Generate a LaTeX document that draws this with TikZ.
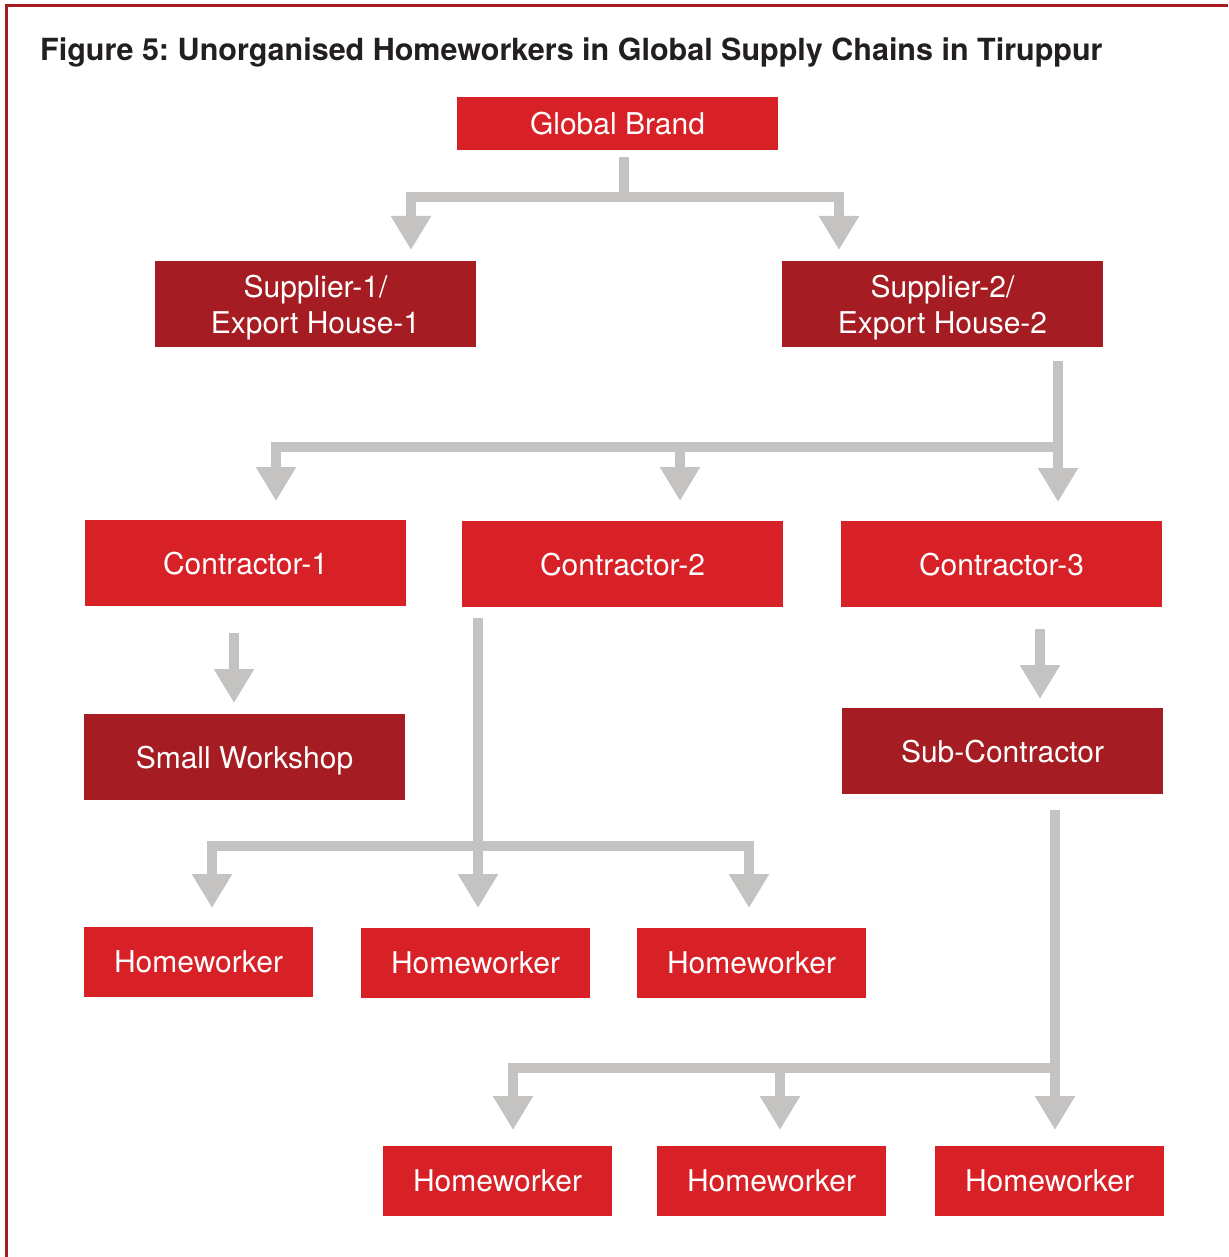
\documentclass[tikz,border=0pt]{standalone}
\usepackage{fontspec}
\setmainfont{TeX Gyre Heros}
\usetikzlibrary{arrows.meta}
\definecolor{brandred}{HTML}{D82027}
\definecolor{darkred}{HTML}{A51C22}
\definecolor{flowgrey}{HTML}{C4C3C1}
\definecolor{titlegrey}{HTML}{231F20}
\frenchspacing

\begin{document}
\begin{tikzpicture}[x=1pt,y=-1pt]
    \tikzstyle{box}=[inner sep=0pt, text=white, text depth=0pt, font=\fontsize{30}{36}\selectfont, align=center]
    \tikzstyle{big box}=[box, minimum width=321pt, minimum height=86pt]
    \tikzstyle{home box}=[box, fill=brandred, minimum width=229pt, minimum height=70pt]
    \tikzstyle{bar}=[draw=flowgrey, line width=10pt]
    \tikzstyle{flow}=[bar, -{Triangle[width=38pt,length=34pt]}]
    \useasboundingbox (0,0) rectangle (1228,1257);
    % frame and title
    \draw[darkred, line width=3pt] (6,1257) -- (6,6) -- (1228,6);
    \node[anchor=base west, inner sep=0pt, text=titlegrey, font=\fontsize{30.5}{36}\selectfont\bfseries] (title) at (40,61)
      {Figure 5: Unorganised Homeworkers in Global Supply Chains in Tiruppur};
    % boxes
    \node[big box, fill=brandred, minimum height=53pt] (brand) at (617.5,123.5) {Global Brand};
    \node[big box, fill=darkred] (sup1) at (315.5,304) {Supplier-1/\\Export House-1};
    \node[big box, fill=darkred] (sup2) at (942.5,304) {Supplier-2/\\Export House-2};
    \node[big box, fill=brandred] (con1) at (245.5,563) {Contractor-1};
    \node[big box, fill=brandred] (con2) at (622.5,564) {Contractor-2};
    \node[big box, fill=brandred] (con3) at (1001.5,564) {Contractor-3};
    \node[big box, fill=darkred] (shop) at (244.5,757) {Small Workshop};
    \node[big box, fill=darkred] (sub) at (1002.5,751) {Sub-Contractor};
    \node[home box] (home1) at (198.5,962) {Homeworker};
    \node[home box] (home2) at (475.5,963) {Homeworker};
    \node[home box] (home3) at (751.5,963) {Homeworker};
    \node[home box] (home4) at (497.5,1181) {Homeworker};
    \node[home box] (home5) at (771.5,1181) {Homeworker};
    \node[home box] (home6) at (1049.5,1181) {Homeworker};
    % brand to suppliers
    \coordinate (b0) at (624,157);
    \coordinate (b1) at (624,197);
    \coordinate (sup1t) at (411,250);
    \coordinate (sup2t) at (839,250);
    \draw[bar] (b0) -- (b1);
    \draw[flow] (b1) -| (sup1t);
    \draw[flow] (b1) -| (sup2t);
    % supplier-2 to contractors
    \coordinate (s0) at (1058,361);
    \coordinate (s1) at (1058,447);
    \coordinate (con1t) at (276,501);
    \coordinate (con2t) at (680,501);
    \coordinate (con3t) at (1058,502);
    \draw[flow] (s0) -- (con3t);
    \draw[flow] (s1) -| (con1t);
    \draw[flow] (s1 -| con2t) -- (con2t);
    % contractor-1 to workshop
    \coordinate (c0) at (234,633);
    \coordinate (shopt) at (234,703);
    \draw[flow] (c0) -- (shopt);
    % contractor-2 to homeworkers
    \coordinate (k0) at (478,618);
    \coordinate (k1) at (478,846);
    \coordinate (home1t) at (212,908);
    \coordinate (home2t) at (478,908);
    \coordinate (home3t) at (749,908);
    \draw[flow] (k0) -- (home2t);
    \draw[flow] (k1) -| (home1t);
    \draw[flow] (k1) -| (home3t);
    % contractor-3 to sub-contractor
    \coordinate (d0) at (1040,629);
    \coordinate (subt) at (1040,699);
    \draw[flow] (d0) -- (subt);
    % sub-contractor to homeworkers
    \coordinate (u0) at (1055,810);
    \coordinate (u1) at (1055,1068);
    \coordinate (home4t) at (513,1130);
    \coordinate (home5t) at (780,1130);
    \coordinate (home6t) at (1055,1130);
    \draw[flow] (u0) -- (home6t);
    \draw[flow] (u1) -| (home4t);
    \draw[flow] (u1 -| home5t) -- (home5t);
\end{tikzpicture}
\end{document}
